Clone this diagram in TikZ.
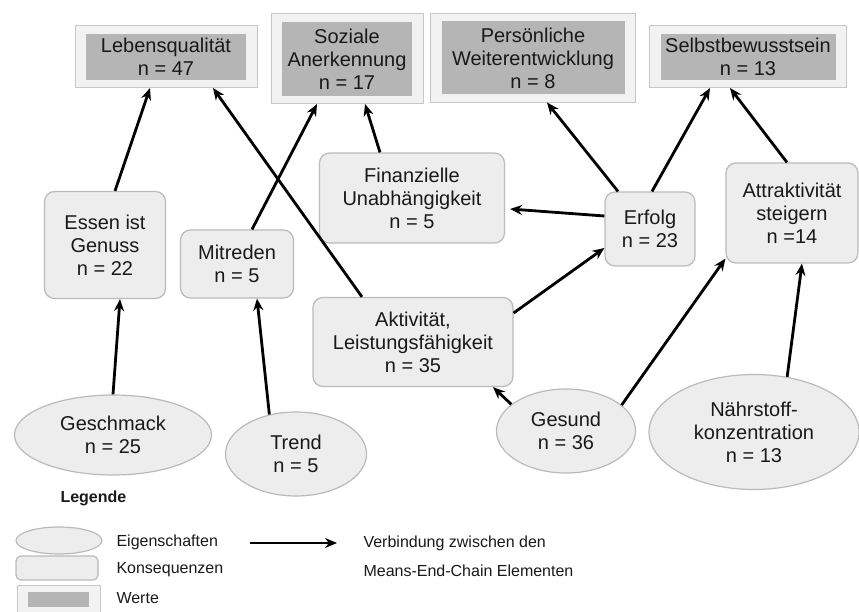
\documentclass[tikz,border=0pt]{standalone}
\usepackage{fontspec}
\setmainfont{Liberation Sans}
\usetikzlibrary{positioning, arrows.meta, fit, shapes.geometric, backgrounds}

\newcommand{\knotenschrift}{\fontsize{20}{23}\selectfont}
\newcommand{\legendenschrift}{\fontsize{16}{18}\selectfont}

\begin{document}
\begin{tikzpicture}[
        x=1pt, y=-1pt,
        verbindung/.style={-{Stealth[length=12pt,width=10pt]}, line width=2.8pt, black},
        wert/.style={rectangle, fill=black!29, inner sep=0pt, outer sep=0pt, align=center, font=\knotenschrift, text=black!90},
        rahmen/.style={rectangle, draw=black!22, fill=black!5, line width=1pt, inner xsep=11pt, inner ysep=8pt, outer sep=0pt},
        konsequenz/.style={rectangle, rounded corners=10pt, draw=black!27, fill=black!7, line width=1.2pt, align=center, font=\knotenschrift, text=black!90},
        eigenschaft/.style={ellipse, draw=black!27, fill=black!7, line width=1.2pt, inner sep=1pt, align=center, font=\knotenschrift, text=black!90},
        legende/.style={anchor=west, font=\legendenschrift, text=black!90},
    ]
    \useasboundingbox (0,0) rectangle (859,612);

        % Draw the values (Werte)
        \node[wert, minimum width=160pt, minimum height=46pt] (leben) at (166,57) {Lebensqualität\\n = 47};
        \node[wert, minimum width=130pt, minimum height=74pt] (sozial) at (347,59) {Soziale\\Anerkennung\\n = 17};
        \node[wert, minimum width=183pt, minimum height=73pt] (weiter) at (533,58) {Persönliche\\Weiterentwicklung\\n = 8};
        \node[wert, minimum width=175pt, minimum height=46pt] (selbst) at (748,57) {Selbstbewusstsein\\n = 13};
        \begin{scope}[on background layer]
            \foreach \name in {leben, sozial, weiter, selbst}
                \node[rahmen, fit=(\name)] (\name R) {};
        \end{scope}

        % Draw the consequences (Konsequenzen)
        \node[konsequenz, minimum width=121pt, minimum height=107pt] (essen) at (105,245) {Essen ist\\Genuss\\n = 22};
        \node[konsequenz, minimum width=113pt, minimum height=68pt] (mitreden) at (237,264) {Mitreden\\n = 5};
        \node[konsequenz, minimum width=185pt, minimum height=90pt] (finanz) at (412,198) {Finanzielle\\Unabhängigkeit\\n = 5};
        \node[konsequenz, minimum width=90pt, minimum height=74pt] (erfolg) at (650,229) {Erfolg\\n = 23};
        \node[konsequenz, minimum width=200pt, minimum height=89pt] (aktiv) at (413,342) {Aktivität,\\Leistungsfähigkeit\\n = 35};
        \node[konsequenz, minimum width=132pt, minimum height=100pt] (attrakt) at (792,213) {Attraktivität\\steigern\\n =14};

        % Draw the attributes (Eigenschaften)
        \node[eigenschaft, minimum width=197pt, minimum height=80pt] (geschmack) at (113,435) {Geschmack\\n = 25};
        \node[eigenschaft, minimum width=141pt, minimum height=84pt] (trend) at (296,454) {Trend\\n = 5};
        \node[eigenschaft, minimum width=139pt, minimum height=84pt] (gesund) at (566,431) {Gesund\\n = 36};
        \node[eigenschaft, minimum width=210pt, minimum height=115pt] (naehr) at (754,432) {Nährstoff-\\konzentration\\n = 13};

        % Connect the consequences with the values
        \draw[verbindung] ([xshift=10pt]essen.north) -- ([xshift=-16pt]lebenR.south);
        \draw[verbindung] ([xshift=-51pt]aktiv.north) -- ([xshift=47pt]lebenR.south);
        \draw[verbindung] ([xshift=15pt]mitreden.north) -- ([xshift=-30pt]sozialR.south);
        \draw[verbindung] ([xshift=-32pt]finanz.north) -- ([xshift=18pt]sozialR.south);
        \draw[verbindung] ([xshift=-32pt]erfolg.north) -- ([xshift=14pt]weiterR.south);
        \draw[verbindung] ([xshift=2pt]erfolg.north) -- ([xshift=-38pt]selbstR.south);
        \draw[verbindung] ([xshift=-5pt]attrakt.north) -- ([xshift=-18pt]selbstR.south);

        % Connect the consequences with each other
        \draw[verbindung] ([yshift=13pt]erfolg.west) -- ([xshift=5pt,yshift=-11pt]finanz.east);
        \draw[verbindung] ([yshift=29pt]aktiv.east) -- ([yshift=-19pt]erfolg.west);

        % Connect the attributes with the consequences
        \draw[verbindung] (geschmack.north) -- ([xshift=15pt]essen.south);
        \draw[verbindung] (trend.124) -- ([xshift=20pt]mitreden.south);
        \draw[verbindung] (gesund.154) -- ([xshift=80pt]aktiv.south);
        \draw[verbindung] (gesund.25) -- ([yshift=5pt]attrakt.south west);
        \draw[verbindung] (naehr.59) -- ([xshift=10pt]attrakt.south);

        % Draw the legend
        \node[anchor=west, font=\legendenschrift\bfseries, text=black!90] (legTitel) at (57,498) {Legende};
        \node[eigenschaft, minimum width=86pt, minimum height=27pt] (legEig) at (59,540.5) {};
        \node[konsequenz, rounded corners=5pt, minimum width=82pt, minimum height=24pt] (legKon) at (57,568) {};
        \node[wert, minimum width=61pt, minimum height=15pt] (legWert) at (58.5,599.5) {};
        \begin{scope}[on background layer]
            \node[rahmen, inner xsep=11pt, inner ysep=6.5pt, fit=(legWert)] (legWertR) {};
        \end{scope}
        \node[legende] (legEigText) at (113,542) {Eigenschaften};
        \node[legende] (legKonText) at (113,570) {Konsequenzen};
        \node[legende] (legWertText) at (113,598) {Werte};
        \coordinate (legA) at (250,543);
        \coordinate (legB) at (337,543);
        \draw[verbindung] (legA) -- (legB);
        \node[legende] (legVerb) at (360,543) {Verbindung zwischen den};
        \node[legende] (legMec) at (360,571) {Means-End-Chain Elementen};
    \end{tikzpicture}
\end{document}
